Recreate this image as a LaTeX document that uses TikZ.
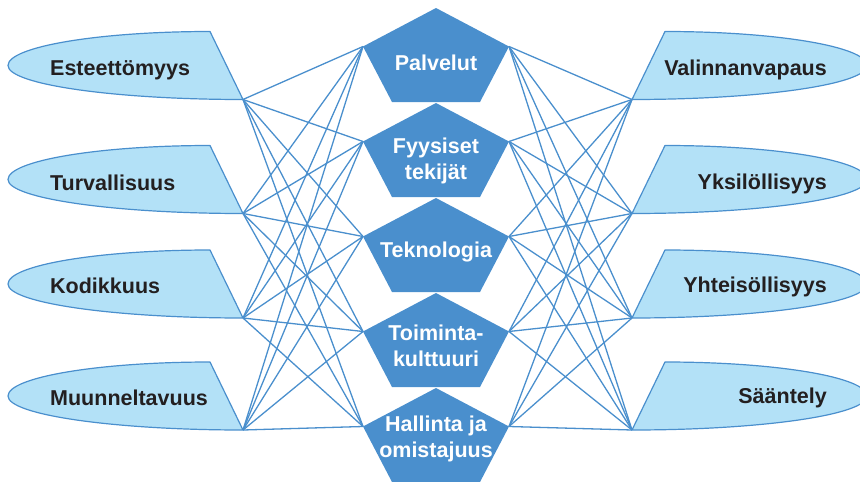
\documentclass[tikz,border=0pt]{standalone}
\usepackage{fontspec}
\setmainfont{Liberation Sans}
\definecolor{lineblue}{HTML}{4A8FCD}
\definecolor{pentblue}{HTML}{4A8FCD}
\definecolor{lightblue}{HTML}{B3E1F7}
\definecolor{txt}{HTML}{231F20}
\begin{document}
\begin{tikzpicture}[x=1pt,y=-1pt,
  link/.style={draw=lineblue,line width=1.3pt},
  sideshape/.style={draw=lineblue,fill=lightblue,line width=1.2pt,line join=round},
  pent/.style={fill=pentblue},
  sidetext/.style={font=\fontsize{21.5}{25}\selectfont\bfseries,text=txt,inner sep=0pt},
  penttext/.style={font=\fontsize{21.5}{26}\selectfont\bfseries,text=white,align=center,inner sep=0pt,anchor=base}]
\useasboundingbox (0,0) rectangle (860,482);
\clip (0,0) rectangle (860,482);
% corner coordinates
\foreach \i/\t in {1/31.5,2/145.5,3/250,4/362}{
  \coordinate (L\i) at (243,\t+68);
  \coordinate (R\i) at (632,\t+68);
}
\foreach \j/\T in {1/8,2/103,3/198,4/293,5/388}{
  \coordinate (PT\j) at (436,\T);
  \coordinate (PL\j) at (363,\T+38.5);
  \coordinate (PR\j) at (509,\T+38.5);
  \coordinate (PBL\j) at (392,\T+94);
  \coordinate (PBR\j) at (480,\T+94);
}
% connectors
\foreach \i in {1,...,4}{
  \foreach \j in {1,...,5}{
    \draw[link] (L\i) -- (PL\j);
    \draw[link] (PR\j) -- (R\i);
  }
}
% side shapes
\foreach \t in {31.5,145.5,250,362}{
  \draw[sideshape] (210,\t) .. controls (98.4,\t) and (8,\t+15.2) .. (8,\t+34)
     .. controls (8,\t+52.8) and (113.2,\t+68) .. (243,\t+68) -- cycle;
  \draw[sideshape] (665,\t) .. controls (776.6,\t) and (867,\t+15.2) .. (867,\t+34)
     .. controls (867,\t+52.8) and (761.8,\t+68) .. (632,\t+68) -- cycle;
}
% pentagons
\foreach \j in {1,...,5}{
  \fill[pent] (PT\j) -- (PR\j) -- (PBR\j) -- (PBL\j) -- (PL\j) -- cycle;
}
% texts
\node[sidetext,anchor=base west] (esteet) at (50,75.5) {Esteettömyys};
\node[sidetext,anchor=base west] (turva) at (50,190) {Turvallisuus};
\node[sidetext,anchor=base west] (kodik) at (50,293) {Kodikkuus};
\node[sidetext,anchor=base west] (muunn) at (50,405) {Muunneltavuus};
\node[sidetext,anchor=base east] (valin) at (827,75.5) {Valinnanvapaus};
\node[sidetext,anchor=base east] (yksil) at (827,189) {Yksilöllisyys};
\node[sidetext,anchor=base east] (yhtei) at (827,292) {Yhteisöllisyys};
\node[sidetext,anchor=base east] (saant) at (827,403) {Sääntely};
\node[penttext] (palv) at (436,70) {Palvelut};
\node[penttext] (fyys) at (436,179) {Fyysiset\\tekijät};
\node[penttext] (tekn) at (436,257) {Teknologia};
\node[penttext] (toim) at (436,366.5) {Toiminta-\\kulttuuri};
\node[penttext] (hall) at (436,457) {Hallinta ja\\omistajuus};
\end{tikzpicture}
\end{document}
